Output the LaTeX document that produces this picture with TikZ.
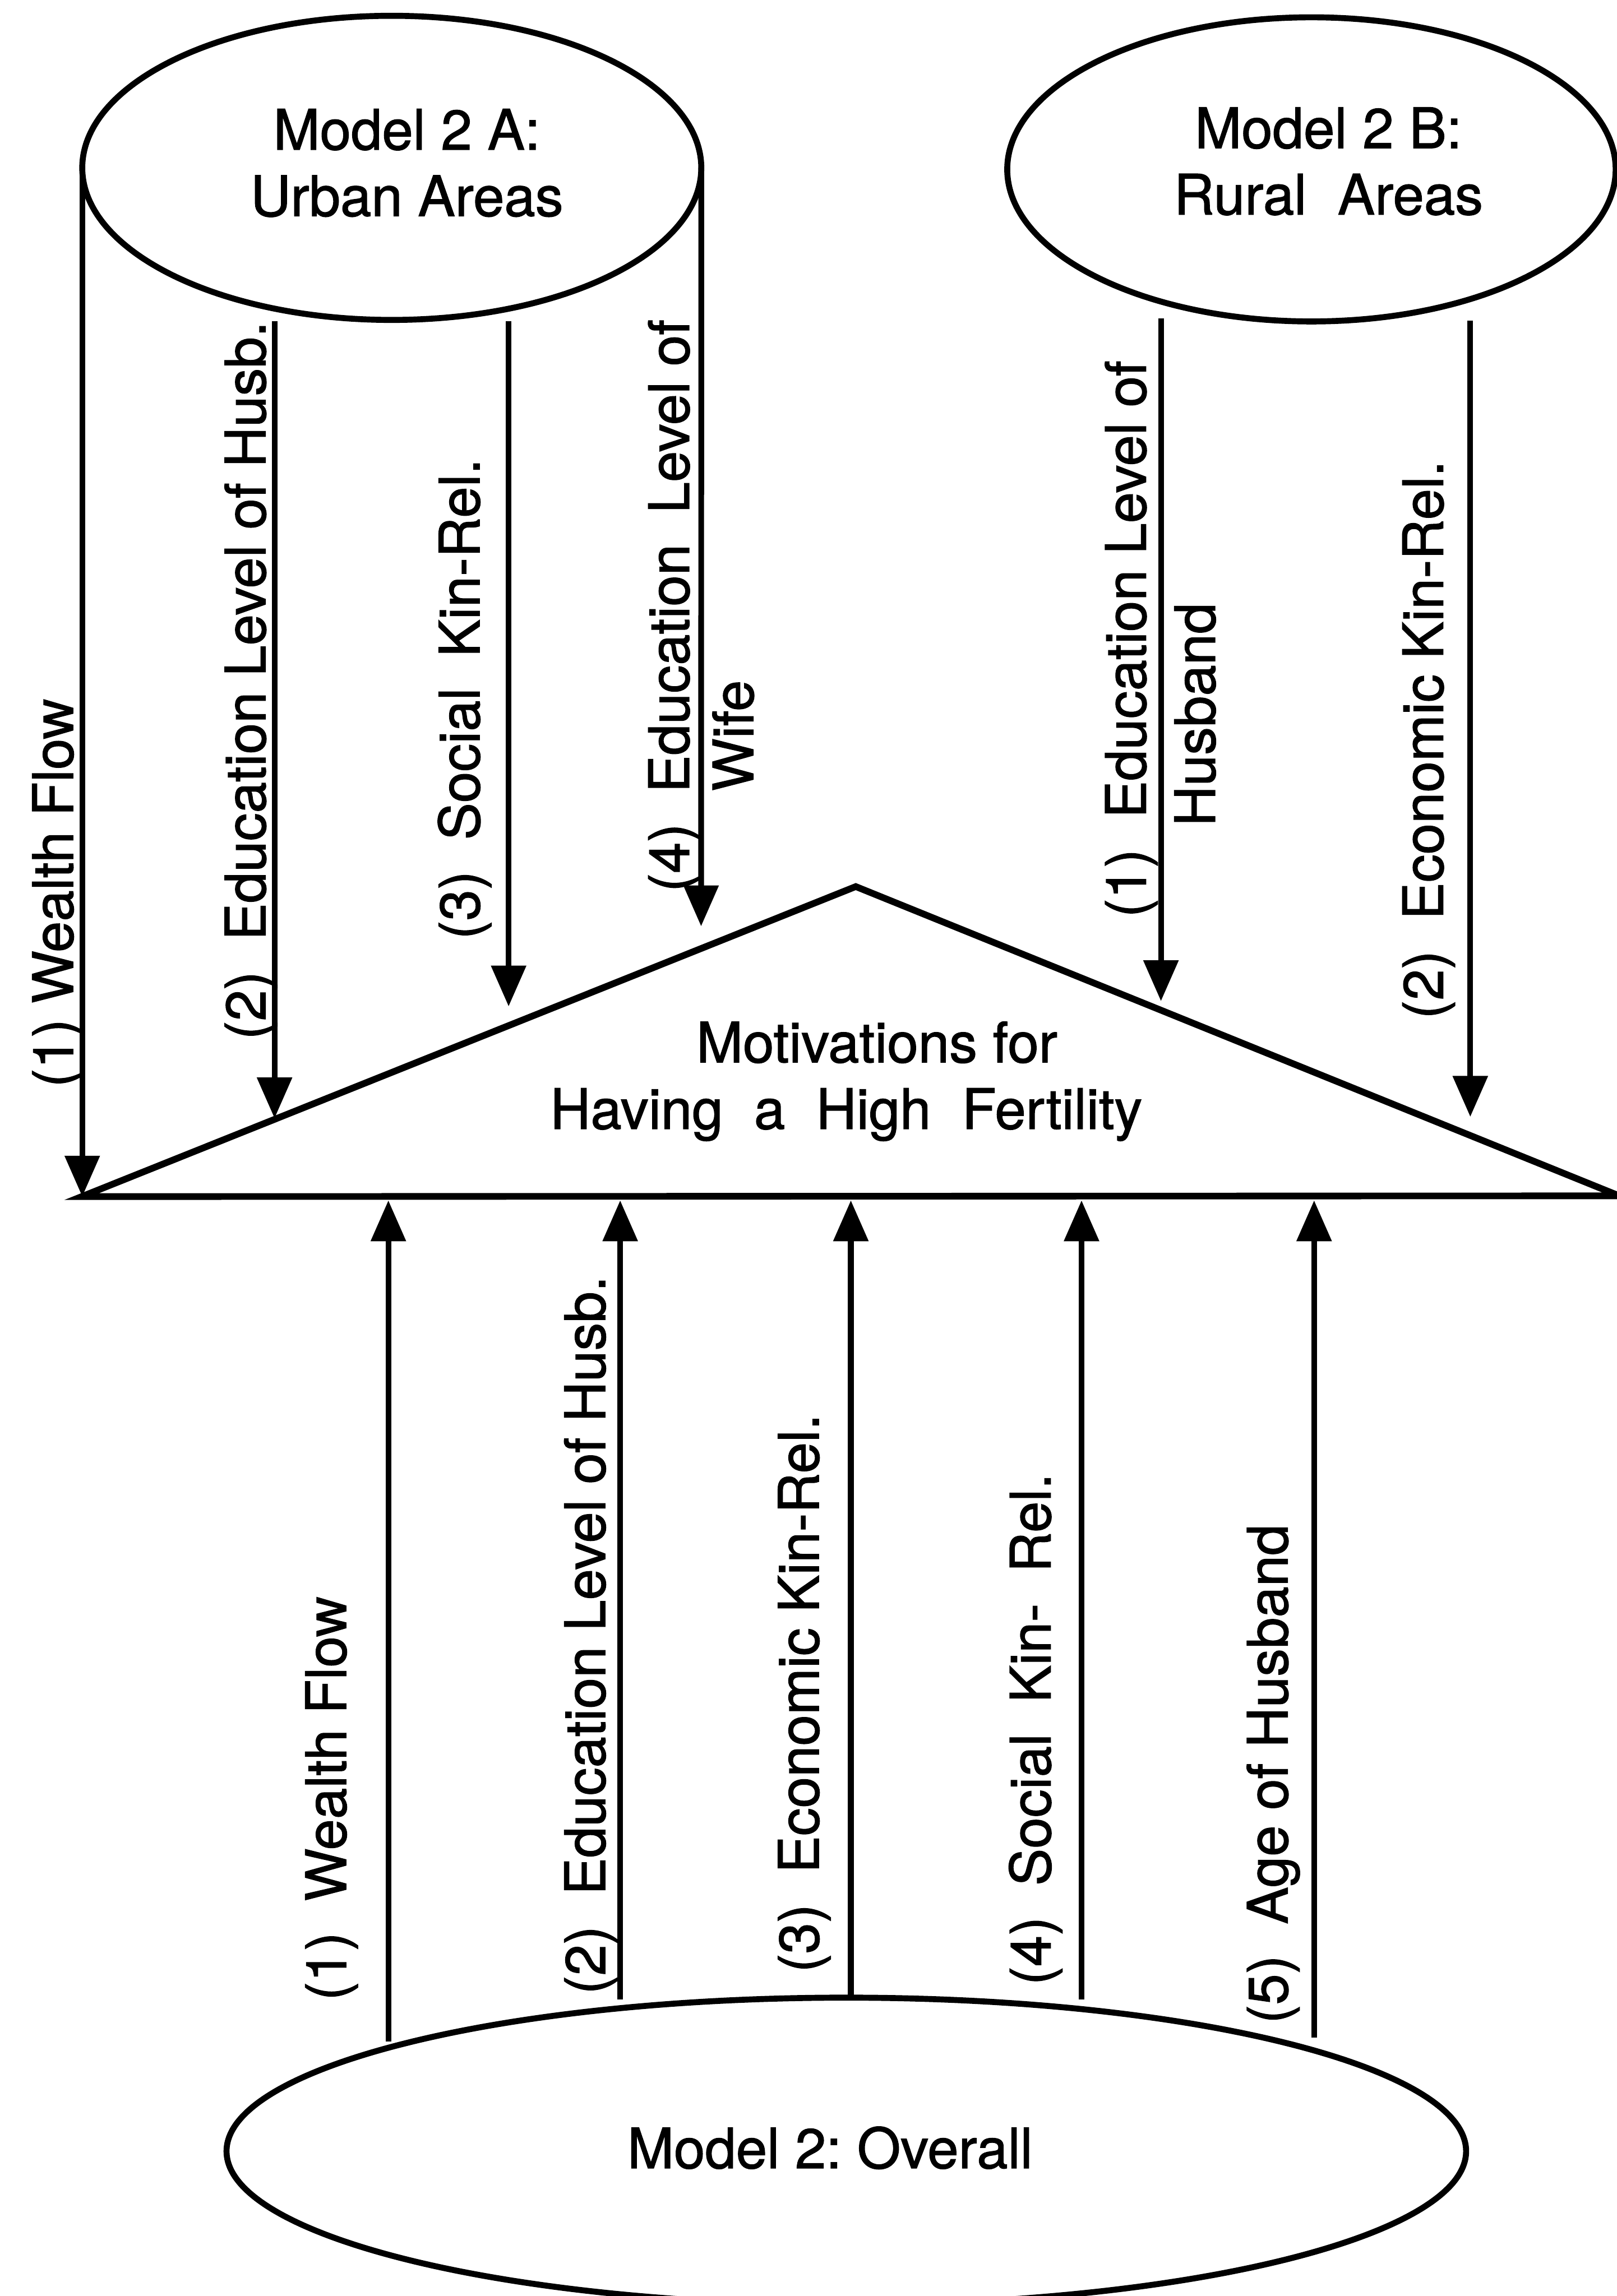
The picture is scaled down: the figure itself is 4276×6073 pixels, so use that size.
\documentclass[tikz,border=0pt]{standalone}
\usepackage{fontspec}
\setmainfont[FakeBold=1.3]{TeX Gyre Heros}
\usetikzlibrary{arrows.meta,shapes.geometric}
\frenchspacing
\begin{document}
\begin{tikzpicture}[x=0.01cm, y=-0.01cm,
  every node/.style={inner sep=0pt, outer sep=0pt},
  txt/.style={font=\fontsize{42}{50}\selectfont\addfontfeature{FakeBold=1.3}},
  lbl/.style={txt, rotate=90, anchor=base},
  oval/.style={draw, line width=4.5pt, ellipse, inner sep=0pt, outer sep=0pt},
  conn/.style={line width=4.3pt, -{Triangle[length=1.08cm,width=0.9cm]}},
  tri/.style={line width=5pt}]
\useasboundingbox (0,0) rectangle (4276,6073);
\fill[white] (0,0) rectangle (4276,6073);

% ellipses
\node[oval, minimum width=16.36cm, minimum height=8.04cm] (ua) at (1036,444) {};
\node[oval, minimum width=16.08cm, minimum height=8.04cm] (ra) at (3468,448) {};
\node[oval, minimum width=32.76cm, minimum height=8.12cm] (ov) at (2238,5690) {};
\node[txt, align=center, anchor=north] (uat) at (1076,288) {Model 2 A:\\Urban Areas};
\node[txt, align=center, anchor=north] (rat) at (3513,284) {Model 2 B:\\Rural~~Areas};
\node[txt, anchor=base] (ovt) at (2195,5735) {Model 2: Overall};

% triangle
\coordinate (tl) at (216,3165);
\coordinate (tp) at (2263,2345);
\coordinate (tr) at (4282,3163);
\draw[tri] (tl) -- (tp) -- (tr) -- cycle;
\node[txt, align=center, anchor=north] (mot) at (2238,2702)
  {\hspace*{46pt}Motivations for\\Having~~a~~High~~Fertility};

% top connectors
\coordinate (a2s) at (726,849);  \coordinate (a2e) at (726,2958);
\coordinate (a3s) at (1345,849); \coordinate (a3e) at (1345,2662);
\coordinate (a4e) at (1854,2450);
\coordinate (b1s) at (3070,842); \coordinate (b1e) at (3070,2648);
\coordinate (b2s) at (3888,848); \coordinate (b2e) at (3888,2954);
\draw[conn] (ua.west) -- (ua.west |- tl);
\draw[conn] (a2s) -- (a2e);
\draw[conn] (a3s) -- (a3e);
\draw[conn] (ua.east) -- (a4e);
\draw[conn] (b1s) -- (b1e);
\draw[conn] (b2s) -- (b2e);

% bottom connectors
\coordinate (c1s) at (1027,5400); \coordinate (c1e) at (1027,3175);
\coordinate (c2s) at (1640,5288); \coordinate (c2e) at (1640,3175);
\coordinate (c3s) at (2250,5282); \coordinate (c3e) at (2250,3175);
\coordinate (c4s) at (2860,5288); \coordinate (c4e) at (2860,3175);
\coordinate (c5s) at (3475,5390); \coordinate (c5e) at (3475,3175);
\draw[conn] (c1s) -- (c1e);
\draw[conn] (c2s) -- (c2e);
\draw[conn] (c3s) -- (c3e);
\draw[conn] (c4s) -- (c4e);
\draw[conn] (c5s) -- (c5e);

% labels
\node[lbl] (la1) at (193,2362) {(1) Wealth Flow};
\node[lbl] (la2) at (702,1800) {(2)~~Education Level of Husb.};
\node[lbl] (la3) at (1268,1849) {(3)~~Social~~Kin-Rel.};
\node[lbl] (la4) at (1822,1602) {(4)~~Education~~Level of};
\node[lbl] (la4b) at (1992,1946) {Wife};
\node[lbl] (lb1) at (3030,1690) {(1)~~Education Level of};
\node[lbl] (lb1b) at (3213,1890) {Husband};
\node[lbl] (lb2) at (3816,1957) {(2)~~Economic Kin-Rel.};
\node[lbl] (lc1) at (915,4757) {(1)~~Wealth Flow};
\node[lbl] (lc2) at (1600,4325) {(2)~~Education Level of Husb.};
\node[lbl] (lc3) at (2165,4479) {(3)~~Economic Kin-Rel.};
\node[lbl] (lc4) at (2778,4574) {(4)~~Social~~Kin-~~Rel.};
\node[lbl] (lc5) at (3405,4692) {(5)~~Age of Husband};
\end{tikzpicture}
\end{document}
